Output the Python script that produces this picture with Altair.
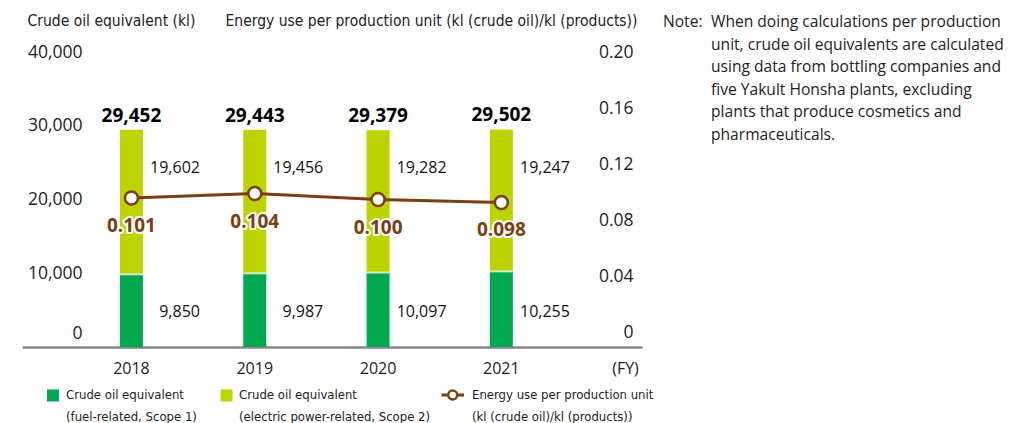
import altair as alt
import pandas as pd

# ---- data ----
years = ["2018", "2019", "2020", "2021"]
scope1 = [9850, 9987, 10097, 10255]
scope2 = [19602, 19456, 19282, 19247]
totals = [29452, 29443, 29379, 29502]
intensity = [0.101, 0.104, 0.100, 0.098]

series_names = [
    "Crude oil equivalent (fuel-related, Scope 1)",
    "Crude oil equivalent (electric power-related, Scope 2)",
]
left_ticks = [0, 10000, 20000, 30000, 40000]
right_ticks = [0, 0.04, 0.08, 0.12, 0.16, 0.20]
note_lines = [
    "When doing calculations per production",
    "unit, crude oil equivalents are calculated",
    "using data from bottling companies and",
    "five Yakult Honsha plants, excluding",
    "plants that produce cosmetics and",
    "pharmaceuticals.",
]

# ---- styles ----
GREEN = "#00A84F"
LIME = "#BDD300"
BROWN = "#7A3E12"
TXT = "#222222"
FONT = "Open Sans"
COND = "DejaVu Sans Condensed, Liberation Sans Narrow, sans-serif"

bars_df = pd.DataFrame({
    "year": years * 2,
    "series": [series_names[0]] * 4 + [series_names[1]] * 4,
    "value": scope1 + scope2,
    "ord": [1] * 4 + [2] * 4,
})
sum_df = pd.DataFrame({
    "year": years, "scope1": scope1, "scope2": scope2,
    "total": totals, "intensity": intensity,
})
one = pd.DataFrame({"k": [0]})

x_enc = alt.X(
    "year:N",
    scale=alt.Scale(paddingInner=0, paddingOuter=0.514, align=0.377),
    axis=alt.Axis(
        title="(FY)", titleX=603, titleY=21, titleAlign="center", titleBaseline="middle",
        titleAngle=0, titleFontWeight="normal", titleFontSize=16, titleFont=FONT, titleColor=TXT,
        labelAngle=0, labelFontSize=16, labelFont=FONT, labelColor=TXT,
        labelBaseline="middle", labelPadding=21,
        ticks=False, tickSize=0, domainColor="#878787", domainWidth=2.5, grid=False,
    ),
)

left_scale = alt.Scale(domain=[0, 40000], nice=False)
left_axis = alt.Axis(
    orient="left", values=left_ticks, labelExpr="format(datum.value, ',')", grid=False, domain=False,
    ticks=False, tickSize=0, labelAlign="right", labelPadding=-60,
    labelBaseline="middle", labelFontSize=17.5, labelFont=FONT, labelColor=TXT,
    labelOffset={"condition": {"test": "datum.value == 0", "value": -14}, "value": 0},
    title="Crude oil equivalent (kl)", titleAngle=0, titleX=5, titleY=-32,
    titleAlign="left", titleBaseline="middle", titleFontSize=15.5, titleFont=COND,
    titleFontWeight="normal", titleColor=TXT,
)

bars = alt.Chart(bars_df).mark_bar(width=23).encode(
    x=x_enc,
    y=alt.Y("value:Q", stack="zero", scale=left_scale, axis=left_axis),
    color=alt.Color("series:N", scale=alt.Scale(domain=series_names, range=[GREEN, LIME]), legend=None),
    order=alt.Order("ord:Q"),
)
sep = alt.Chart(sum_df).mark_tick(color="white", thickness=2, size=23).encode(
    x=x_enc, y=alt.Y("scope1:Q", scale=left_scale, axis=left_axis),
)
tot = alt.Chart(sum_df).mark_text(dy=-14, fontSize=19, fontWeight="bold", font=FONT, color="#000").encode(
    x=x_enc, y=alt.Y("total:Q", scale=left_scale, axis=left_axis),
    text=alt.Text("total:Q", format=","),
)
lab2 = alt.Chart(sum_df).mark_text(align="right", dx=68.5, fontSize=16, font=FONT, color="#111").encode(
    x=x_enc, y=alt.YDatum(24300, scale=left_scale, axis=left_axis),
    text=alt.Text("scope2:Q", format=","),
)
lab1 = alt.Chart(sum_df).mark_text(align="right", dx=68.5, fontSize=16, font=FONT, color="#111").encode(
    x=x_enc, y=alt.YDatum(4700, scale=left_scale, axis=left_axis),
    text=alt.Text("scope1:Q", format=","),
)
left_group = alt.layer(bars, sep, tot, lab2, lab1)

line_y = alt.Y("intensity:Q", scale=alt.Scale(domain=[0, 0.2], nice=False), axis=None)
line = alt.Chart(sum_df).mark_line(color=BROWN, strokeWidth=3).encode(x=x_enc, y=line_y)
pts = alt.Chart(sum_df).mark_point(filled=True, fill="white", stroke=BROWN, strokeWidth=2.5,
                                   size=170, opacity=1).encode(x=x_enc, y=line_y)
halo = alt.Chart(sum_df).mark_text(dy=28, fontSize=19, fontWeight="bold", font=FONT,
                                   color="white", stroke="white", strokeWidth=4,
                                   strokeJoin="round").encode(
    x=x_enc, y=line_y, text=alt.Text("intensity:Q", format=".3f"))
ilab = alt.Chart(sum_df).mark_text(dy=28, fontSize=19, fontWeight="bold", font=FONT,
                                   color=BROWN).encode(
    x=x_enc, y=line_y, text=alt.Text("intensity:Q", format=".3f"))
line_group = alt.layer(line, pts, halo, ilab)

right_axis = alt.Chart(sum_df).mark_point(opacity=0).encode(
    x=x_enc,
    y=alt.Y("intensity:Q", scale=alt.Scale(domain=[-0.010714, 0.2], nice=False, zero=False),
            axis=alt.Axis(
                orient="right", values=right_ticks, grid=False, domain=False,
                ticks=False, tickSize=0, labelAlign="right", labelPadding=-9,
                labelBaseline="middle", labelFontSize=17.5, labelFont=FONT, labelColor=TXT,
                labelExpr="datum.value == 0 ? '0' : format(datum.value, '.2f')",
                title="Energy use per production unit (kl (crude oil)/kl (products))",
                titleAngle=0, titleX=-5, titleY=-32, titleAlign="right", titleBaseline="middle",
                titleFontSize=15.5, titleFont=COND, titleFontWeight="normal", titleColor=TXT,
            )),
)

# ---- legend (drawn by hand) ----
def ltext(txt, x):
    return alt.Chart(one).mark_text(align="left", baseline="middle", lineBreak="\n",
                                    lineHeight=22, fontSize=13, font=COND, color=TXT).encode(
        x=alt.value(x), y=alt.value(343), text=alt.value(txt))

leg = [
    alt.Chart(one).mark_square(size=144, color=GREEN, opacity=1).encode(x=alt.value(31), y=alt.value(343.5)),
    ltext("Crude oil equivalent\n(fuel-related, Scope 1)", 44),
    alt.Chart(one).mark_square(size=144, color=LIME, opacity=1).encode(x=alt.value(204.5), y=alt.value(343.5)),
    ltext("Crude oil equivalent\n(electric power-related, Scope 2)", 217),
    alt.Chart(one).mark_rule(color=BROWN, strokeWidth=3).encode(
        x=alt.value(419.5), x2=alt.value(442), y=alt.value(343)),
    alt.Chart(one).mark_point(filled=True, fill="white", stroke=BROWN, strokeWidth=2.5,
                              size=80, opacity=1).encode(x=alt.value(430.7), y=alt.value(343)),
    ltext("Energy use per production unit\n(kl (crude oil)/kl (products))", 450),
]

note = [
    alt.Chart(one).mark_text(align="left", baseline="middle", fontSize=15.6, font=FONT, color=TXT).encode(
        x=alt.value(641), y=alt.value(-30), text=alt.value("Note:")),
    alt.Chart(one).mark_text(align="left", baseline="middle", fontSize=15.6, font=FONT, color=TXT,
                             lineBreak="\n", lineHeight=22.6).encode(
        x=alt.value(689), y=alt.value(-30), text=alt.value("\n".join(note_lines))),
]

chart = alt.layer(left_group, line_group, right_axis, *leg, *note).resolve_scale(
    y="independent"
).properties(
    width=620, height=295,
    padding={"left": 14, "top": 44, "right": 366, "bottom": 76},
    autosize=alt.AutoSizeParams(type="none"),
).configure_view(stroke=None)

chart.save("out.html", embed_options={"renderer": "svg", "actions": False})
